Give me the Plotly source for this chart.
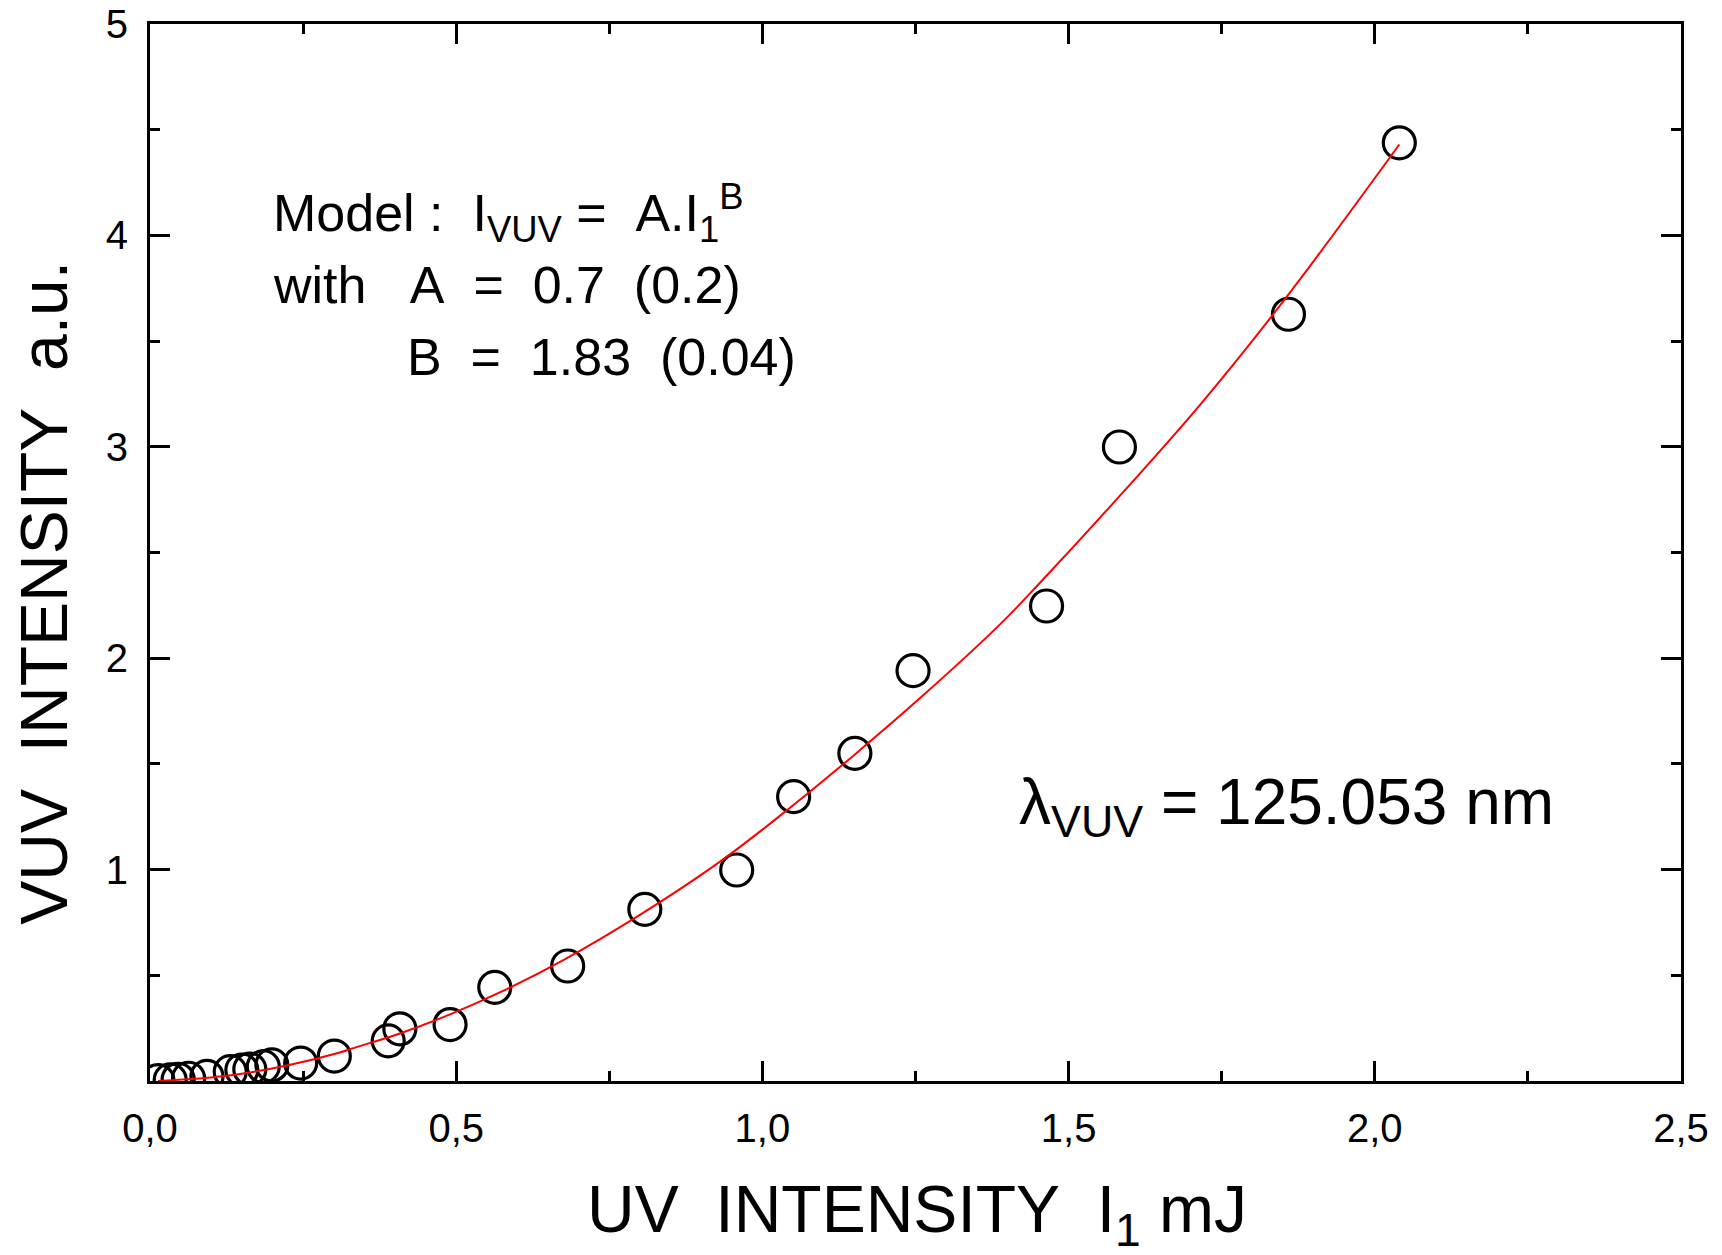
import plotly.graph_objects as go

# Measured data points (UV intensity mJ, VUV intensity a.u.)
x_pts = [0.013, 0.033, 0.046, 0.063, 0.093, 0.131, 0.150, 0.163, 0.185, 0.199,
         0.246, 0.301, 0.389, 0.408, 0.490, 0.563, 0.682, 0.808, 0.958, 1.051,
         1.151, 1.246, 1.464, 1.583, 1.859, 2.040]
y_pts = [0.002, 0.005, 0.008, 0.013, 0.022, 0.044, 0.052, 0.056, 0.068, 0.076,
         0.085, 0.118, 0.190, 0.247, 0.267, 0.443, 0.544, 0.812, 0.998, 1.345,
         1.550, 1.941, 2.247, 2.999, 3.627, 4.438]

# Fit curve
curve_x = [0.013, 0.10, 0.147, 0.229, 0.31, 0.335, 0.408, 0.49, 0.572, 0.675,
           0.794, 0.932, 1.044, 1.151, 1.257, 1.388, 1.451, 1.578, 1.715, 1.851, 2.04]
curve_y = [0.0, 0.017, 0.033, 0.077, 0.135, 0.158, 0.225, 0.315, 0.42, 0.572,
           0.775, 1.04, 1.29, 1.545, 1.81, 2.16, 2.35, 2.75, 3.2, 3.69, 4.43]

x_tickvals = [0, 0.5, 1.0, 1.5, 2.0, 2.5]
x_ticktext = ["0,0", "0,5", "1,0", "1,5", "2,0", "2,5"]
x_minor = [0.25, 0.75, 1.25, 1.75, 2.25]
y_tickvals = [1, 2, 3, 4, 5]
y_ticktext = ["1", "2", "3", "4", "5"]
y_minor = [0.5, 1.5, 2.5, 3.5, 4.5]

FONT = "Liberation Sans, Arial, sans-serif"
NB = "\u00a0"

fig = go.Figure()
fig.add_trace(go.Scatter(
    x=x_pts, y=y_pts, mode="markers",
    marker=dict(symbol="circle-open", size=32, color="black",
                line=dict(width=3.2, color="black")),
    showlegend=False, hoverinfo="x+y"))
fig.add_trace(go.Scatter(
    x=curve_x, y=curve_y, mode="lines",
    line=dict(color="#ff0000", width=2, shape="spline", smoothing=1.0),
    showlegend=False))

axis_common = dict(
    showline=True, linecolor="black", linewidth=3, mirror="ticks",
    ticks="inside", ticklen=20, tickwidth=2.5, tickcolor="black",
    showgrid=False, zeroline=False, automargin=False,
    ticklabeloverflow="allow",
    tickfont=dict(family=FONT, size=40, color="black"),
)

fig.update_xaxes(range=[0, 2.5], tickmode="array", tickvals=x_tickvals,
                 ticktext=x_ticktext, ticklabelstandoff=10,
                 minor=dict(tickmode="array", tickvals=x_minor, ticks="inside",
                            ticklen=10, tickwidth=2.5, tickcolor="black",
                            showgrid=False),
                 **axis_common)
fig.update_yaxes(range=[0, 5], tickmode="array", tickvals=y_tickvals,
                 ticktext=y_ticktext, ticklabelstandoff=11,
                 minor=dict(tickmode="array", tickvals=y_minor, ticks="inside",
                            ticklen=10, tickwidth=2.5, tickcolor="black",
                            showgrid=False),
                 **axis_common)

annotations = [
    dict(text=f"UV{NB}{NB}INTENSITY{NB}{NB}I<sub>1</sub>{NB}mJ",
         xref="paper", yref="paper", x=0.501, y=-0.126,
         xanchor="center", yanchor="middle", showarrow=False,
         font=dict(family=FONT, size=66, color="black")),
    dict(text=f"VUV{NB}{NB}INTENSITY{NB}{NB}a.u.",
         xref="paper", yref="paper", x=-0.0692, y=0.462, textangle=-90,
         xanchor="center", yanchor="middle", showarrow=False,
         font=dict(family=FONT, size=66, color="black")),
    dict(text=f"Model{NB}:{NB}{NB}I<sub>VUV</sub>{NB}={NB}{NB}A.I<sub>1</sub><sup>B</sup>",
         xref="x", yref="y", x=0.198, y=4.105,
         xanchor="left", yanchor="middle", showarrow=False,
         font=dict(family=FONT, size=52, color="black")),
    dict(text=f"with{NB}{NB}{NB}A{NB}{NB}={NB}{NB}0.7{NB}{NB}(0.2)",
         xref="x", yref="y", x=0.198, y=3.765,
         xanchor="left", yanchor="middle", showarrow=False,
         font=dict(family=FONT, size=52, color="black")),
    dict(text=f"B{NB}{NB}={NB}{NB}1.83{NB}{NB}(0.04)",
         xref="x", yref="y", x=0.4167, y=3.425,
         xanchor="left", yanchor="middle", showarrow=False,
         font=dict(family=FONT, size=52, color="black")),
    dict(text=f"λ<sub>VUV</sub>{NB}={NB}125.053{NB}nm",
         xref="x", yref="y", x=1.416, y=1.30,
         xanchor="left", yanchor="middle", showarrow=False,
         font=dict(family=FONT, size=64, color="black")),
]

fig.update_layout(
    width=1722, height=1255, autosize=False,
    margin=dict(l=142, r=49, t=16, b=182, pad=0),
    paper_bgcolor="white", plot_bgcolor="white",
    annotations=annotations,
    showlegend=False,
)

fig.write_html("out.html")
